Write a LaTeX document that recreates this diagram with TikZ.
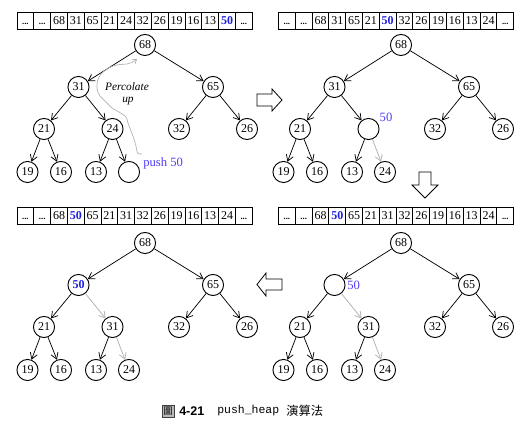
\documentclass[tikz,border=0pt]{standalone}
\usepackage{fontspec}
\setmainfont{Liberation Serif}
\newfontfamily\capsans{Liberation Sans}
\newfontfamily\capmono{Liberation Mono}
\newfontfamily\cjk{Noto Sans CJK TC}
\usetikzlibrary{arrows.meta}
\definecolor{heapblue}{RGB}{30,30,220}
\definecolor{labelblue}{RGB}{80,60,245}
\definecolor{trailgray}{RGB}{175,175,175}
\newcommand\hotval[1]{\textcolor{heapblue}{\bfseries #1}}
\newcommand\elide{{\fontsize{6.5}{6}\selectfont\bfseries...}}

\tikzset{
  hn/.style={circle, draw, line width=0.7pt, minimum size=15.8pt, inner sep=0pt,
             font=\fontsize{9}{10}\selectfont},
  cell/.style={draw, line width=0.7pt, minimum width=12.6pt, minimum height=12.75pt,
               inner sep=0pt, text height=6.2pt, text depth=0pt,
               font=\fontsize{9}{10}\selectfont},
  edge/.style={line width=0.55pt, -{Straight Barb[length=4.5pt,width=5.5pt]}},
  moved/.style={edge, draw=trailgray},
  bigarrow/.style={draw, line width=0.6pt, fill=white, line join=miter},
  newval/.style={text=labelblue, inner sep=0pt, font=\fontsize{9.5}{11}\selectfont},
}

\begin{document}
\begin{tikzpicture}[x=0.75pt, y=-0.75pt]
\useasboundingbox (0,0) rectangle (526,427);

% ---------- storage arrays ----------
\foreach \t [count=\i] in {\elide,\elide,68,31,65,21,24,32,26,19,16,13,\hotval{50},\elide}
  \node[cell] (aa\i) at ({17+16.8*(\i-0.5)}, 20.5) {\t};
\foreach \t [count=\i] in {\elide,\elide,68,31,65,21,\hotval{50},32,26,19,16,13,24,\elide}
  \node[cell] (ba\i) at ({278.5+16.8*(\i-0.5)}, 20.5) {\t};
\foreach \t [count=\i] in {\elide,\elide,68,\hotval{50},65,21,31,32,26,19,16,13,24,\elide}
  \node[cell] (ca\i) at ({17+16.8*(\i-0.5)}, 215.5) {\t};
\foreach \t [count=\i] in {\elide,\elide,68,\hotval{50},65,21,31,32,26,19,16,13,24,\elide}
  \node[cell] (da\i) at ({278.5+16.8*(\i-0.5)}, 215.5) {\t};

% ---------- step 1: new value placed at the end ----------
\begin{scope}[shift={(145,45)}]
  \node[hn] (a0) at (0,0) {68};
  \node[hn] (a1) at (-66.5,42) {31};
  \node[hn] (a2) at (68,42) {65};
  \node[hn] (a3) at (-101,84) {21};
  \node[hn] (a4) at (-32.5,84) {24};
  \node[hn] (a5) at (34,84) {32};
  \node[hn] (a6) at (102,84) {26};
  \node[hn] (a7) at (-117.5,127) {19};
  \node[hn] (a8) at (-84,127) {16};
  \node[hn] (a9) at (-49,127) {13};
  \node[hn] (a10) at (-16,127) {};
\end{scope}
\foreach \p/\c in {0/1,0/2,1/3,1/4,2/5,2/6,3/7,3/8,4/9,4/10}
  \draw[edge] (a\p) -- (a\c);
\node[newval, anchor=west] (push) at (143,163) {push 50};
\node[inner sep=0pt, font=\fontsize{8.5}{10}\selectfont\itshape] (perc) at (127,87) {Percolate};
\node[inner sep=0pt, font=\fontsize{8.5}{10}\selectfont\itshape] (percup) at (128,101) {up};
\draw[trailgray, line width=0.5pt, -{Straight Barb[length=3pt,width=4pt]}]
  plot[smooth, tension=0.55] coordinates {(142,154) (137.5,153) (136,146) (134,139)
    (131,131) (128,123) (126,117) (119,112) (112,108) (105,101) (100,96)
    (97,89) (97.5,81) (101,74) (107,69) (113,66) (120,64.5) (127,64) (132,62.5) (137,59)};

% ---------- arrow to step 2 ----------
\draw[bigarrow] (257,94) -- (272,94) -- (272,89) -- (282,100) -- (272,111)
  -- (272,106) -- (257,106) -- cycle;

% ---------- step 2: 24 moves down ----------
\begin{scope}[shift={(401,45)}]
  \node[hn] (b0) at (0,0) {68};
  \node[hn] (b1) at (-66.5,42) {31};
  \node[hn] (b2) at (68,42) {65};
  \node[hn] (b3) at (-101,84) {21};
  \node[hn] (b4) at (-32.5,84) {};
  \node[hn] (b5) at (34,84) {32};
  \node[hn] (b6) at (102,84) {26};
  \node[hn] (b7) at (-117.5,127) {19};
  \node[hn] (b8) at (-84,127) {16};
  \node[hn] (b9) at (-49,127) {13};
  \node[hn] (b10) at (-16,127) {24};
\end{scope}
\foreach \p/\c in {0/1,0/2,1/3,1/4,2/5,2/6,3/7,3/8,4/9}
  \draw[edge] (b\p) -- (b\c);
\draw[moved] (b4) -- (b10);
\node[newval] (bval) at (386,117) {50};

% ---------- arrow to step 3 ----------
\draw[bigarrow] (419,172) -- (431,172) -- (431,185) -- (438,185) -- (425,198)
  -- (412,185) -- (419,185) -- cycle;

% ---------- step 3: 31 moves down ----------
\begin{scope}[shift={(401,243)}]
  \node[hn] (d0) at (0,0) {68};
  \node[hn] (d1) at (-66.5,42) {};
  \node[hn] (d2) at (68,42) {65};
  \node[hn] (d3) at (-101,84) {21};
  \node[hn] (d4) at (-32.5,84) {31};
  \node[hn] (d5) at (34,84) {32};
  \node[hn] (d6) at (102,84) {26};
  \node[hn] (d7) at (-117.5,127) {19};
  \node[hn] (d8) at (-84,127) {16};
  \node[hn] (d9) at (-49,127) {13};
  \node[hn] (d10) at (-16,127) {24};
\end{scope}
\foreach \p/\c in {0/1,0/2,1/3,2/5,2/6,3/7,3/8,4/9}
  \draw[edge] (d\p) -- (d\c);
\draw[moved] (d1) -- (d4);
\draw[moved] (d4) -- (d10);
\node[newval, anchor=west] (dval) at (347,285) {50};

% ---------- arrow to step 4 ----------
\draw[bigarrow] (282,279) -- (266,279) -- (266,273) -- (257,284.5) -- (266,296)
  -- (266,290) -- (282,290) -- cycle;

% ---------- step 4: 50 settles ----------
\begin{scope}[shift={(145,243)}]
  \node[hn] (c0) at (0,0) {68};
  \node[hn] (c1) at (-66.5,42) {\hotval{50}};
  \node[hn] (c2) at (68,42) {65};
  \node[hn] (c3) at (-101,84) {21};
  \node[hn] (c4) at (-32.5,84) {31};
  \node[hn] (c5) at (34,84) {32};
  \node[hn] (c6) at (102,84) {26};
  \node[hn] (c7) at (-117.5,127) {19};
  \node[hn] (c8) at (-84,127) {16};
  \node[hn] (c9) at (-49,127) {13};
  \node[hn] (c10) at (-16,127) {24};
\end{scope}
\foreach \p/\c in {0/1,0/2,1/3,2/5,2/6,3/7,3/8,4/9}
  \draw[edge] (c\p) -- (c\c);
\draw[moved] (c1) -- (c4);
\draw[moved] (c4) -- (c10);

% ---------- caption ----------
\node[draw=black!75, fill=gray!55, inner sep=0.3pt, minimum size=9pt,
      font=\cjk\fontsize{7}{7}\selectfont] (figmark) at (168,411) {圖};
\node[anchor=west, inner sep=0pt, font=\capsans\bfseries\fontsize{9.4}{10}\selectfont]
  (fignum) at (179,411) {4-21};
\node[anchor=west, inner sep=0pt, font=\capmono\fontsize{8.6}{10}\selectfont]
  (figcode) at (217,411) {push\_heap};
\node[anchor=west, inner sep=0pt, font=\cjk\fontsize{9.2}{10}\selectfont]
  (figtitle) at (286,411) {演算法};
\end{tikzpicture}
\end{document}
